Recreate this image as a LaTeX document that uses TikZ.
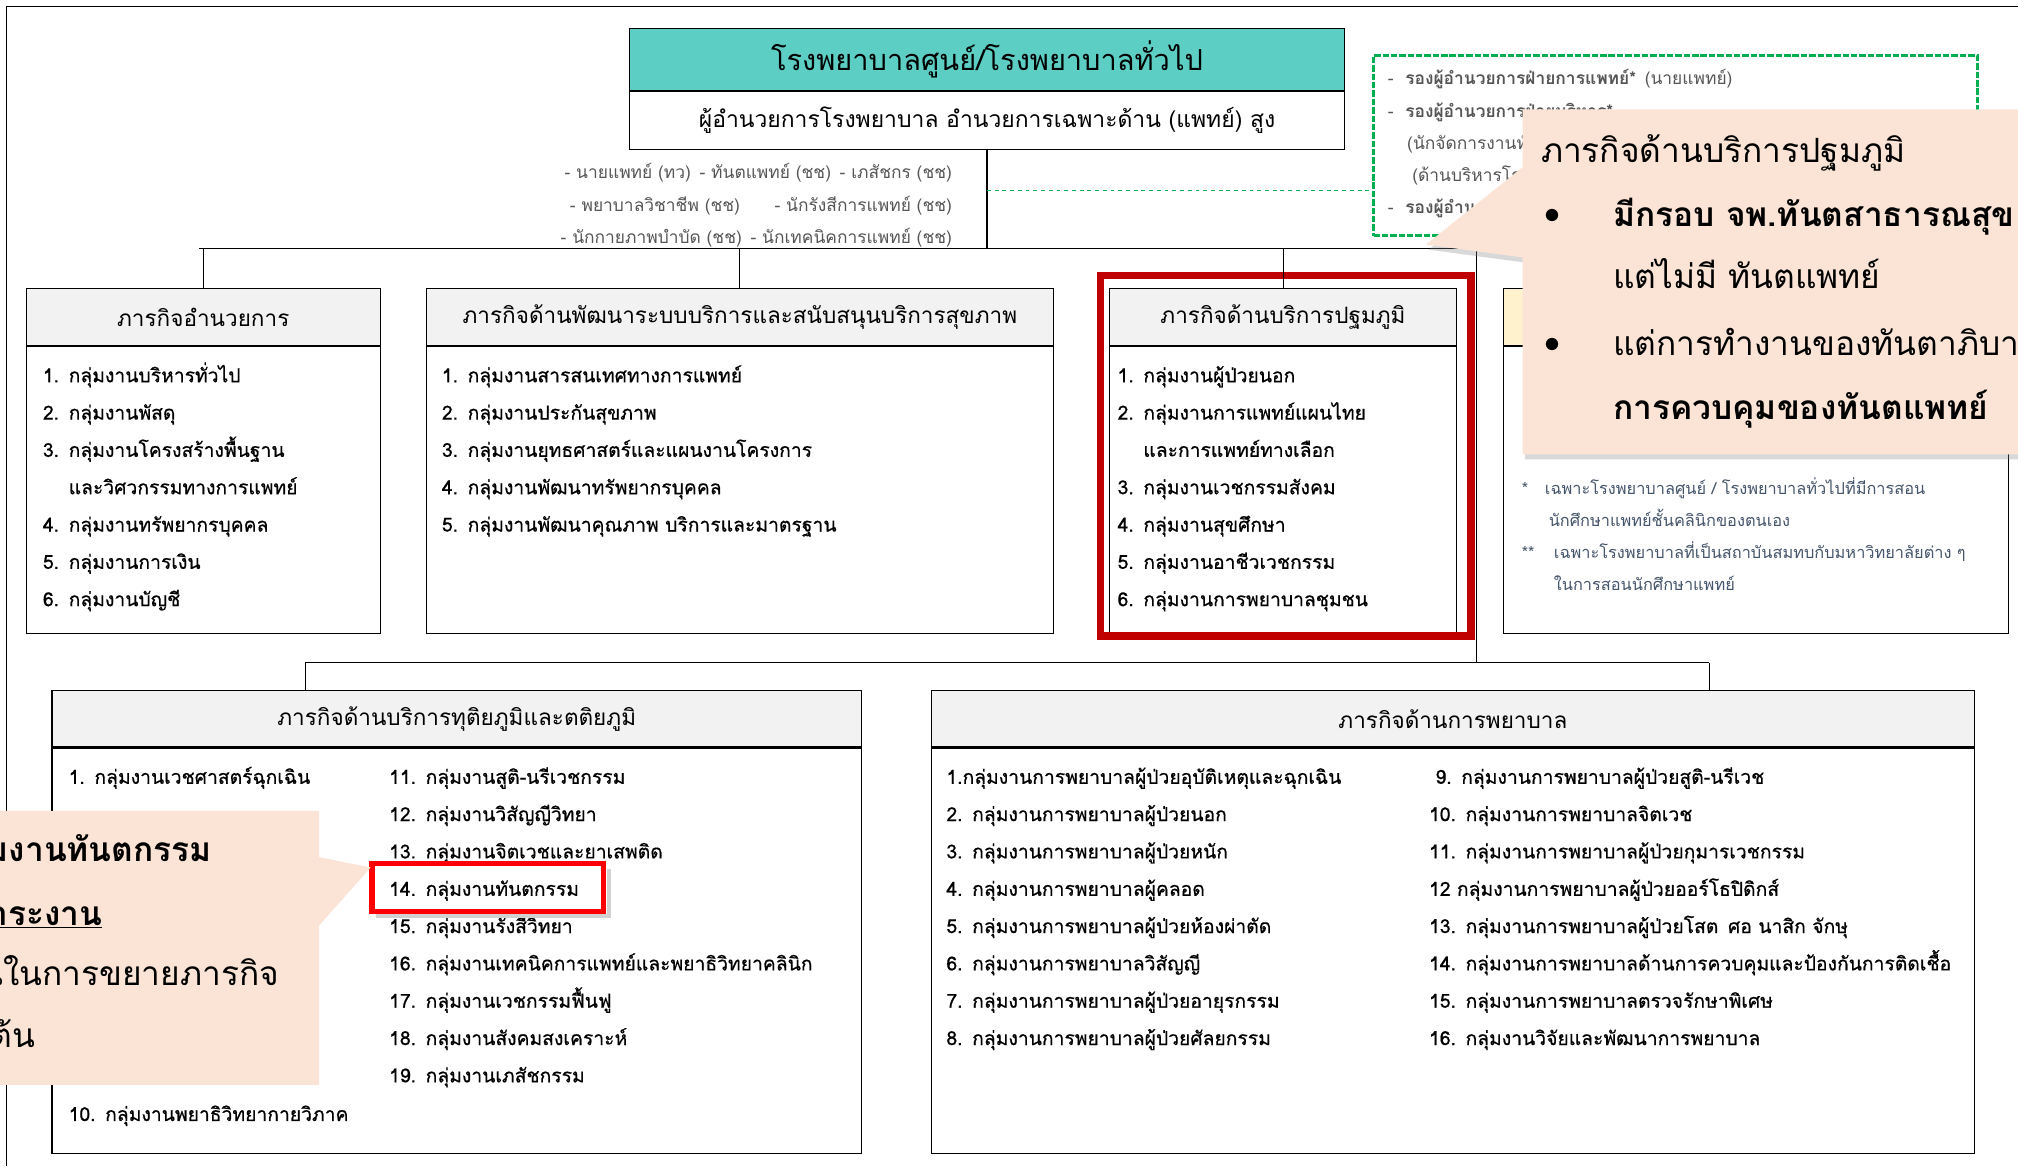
\documentclass[tikz,border=0pt]{standalone}
\usepackage{fontspec}
\setmainfont{Loma}[Script=Thai]
\newfontfamily\itemfont{Loma}[Script=Thai, FakeBold=0.6]
\usetikzlibrary{calc,positioning,shadows}

\definecolor{tealtop}{RGB}{92,206,195}
\definecolor{hdrgray}{RGB}{242,242,242}
\definecolor{peach}{RGB}{251,228,214}
\definecolor{darkred}{RGB}{192,0,0}
\definecolor{brightred}{RGB}{255,0,0}
\definecolor{dashgreen}{RGB}{0,176,80}
\definecolor{paleyellow}{RGB}{255,242,204}
\definecolor{smallgray}{RGB}{85,85,85}
\definecolor{notegray}{RGB}{68,84,106}

\tikzset{hdr/.style = {draw, fill=hdrgray, inner sep=0pt, minimum height=44pt, anchor=north west, font=\fontsize{17.5}{20}\selectfont}}
\tikzset{body/.style = {draw, fill=white, inner sep=0pt, anchor=north west}}
\tikzset{items/.style = {anchor=base west, inner sep=0pt, text width=#1, align=left, font=\itemfont\fontsize{15}{29}\selectfont}}
\tikzset{small/.style = {inner sep=0pt, font=\fontsize{13.5}{25}\selectfont}}
\tikzset{big/.style = {inner sep=0pt, anchor=base west, font=\fontsize{26}{30}\selectfont}}
\tikzset{bigbold/.style = {inner sep=0pt, anchor=base west, font=\fontsize{26}{30}\selectfont\bfseries}}
\tikzset{redframe/.style = {draw=darkred, line width=6pt}}

\begin{document}
\begin{tikzpicture}[x=1pt, y=-1pt, line width=0.8pt]
	\useasboundingbox (0,0) rectangle (1568,906);
	\clip (0,0) rectangle (1568,906);
	\fill[white] (0,0) rectangle (1568,906);
	\draw (5,906) -- (5,5) -- (1568,5);

	% hospital head
	\node[draw, fill=tealtop, minimum width=555pt, minimum height=48pt, inner sep=0pt, anchor=north west, font=\fontsize{22.5}{24}\selectfont] (hosp) at (489,22) {โรงพยาบาลศูนย์/โรงพยาบาลทั่วไป};
	\node[draw, fill=white, minimum width=555pt, minimum height=45pt, inner sep=0pt, anchor=north west, font=\fontsize{17.8}{22}\selectfont] (dir) at (hosp.south west) {ผู้อำนวยการโรงพยาบาล อำนวยการเฉพาะด้าน (แพทย์) สูง};
	\node[small, text=smallgray, anchor=base east, text width=340pt, align=right] (staff) at (740,139) {- นายแพทย์ (ทว)\enspace- ทันตแพทย์ (ชช)\enspace- เภสัชกร (ชช)\\- พยาบาลวิชาชีพ (ชช)\qquad- นักรังสีการแพทย์ (ชช)\\- นักกายภาพบำบัด (ชช)\enspace- นักเทคนิคการแพทย์ (ชช)};

	% deputies
	\node[draw=dashgreen, line width=2.5pt, dash pattern=on 5pt off 1.5pt, minimum width=469pt, minimum height=140pt, inner sep=0pt, anchor=north west] (deputy) at (1066,42) {};
	\node[small, text=smallgray, anchor=base west, text width=440pt, align=left] (deputyList) at (1078,66) {-\hspace{9pt}\textbf{รองผู้อำนวยการฝ่ายการแพทย์*}\enspace(นายแพทย์)\\-\hspace{9pt}\textbf{รองผู้อำนวยการฝ่ายบริหาร*}\\\hspace*{15pt}(นักจัดการงานทั่วไป)\\\hspace*{19pt}(ด้านบริหารโรงพยาบาล)\\-\hspace{9pt}\textbf{รองผู้อำนวยการฝ่ายการพยาบาล}};

	% connectors
	\coordinate (busL) at (155,193);
	\coordinate (busR) at (1364,193);
	\coordinate (trunk) at (1147,193);
	\coordinate (lowL) at (237,515);
	\coordinate (lowR) at (1328,515);
	\coordinate (greenEnd) at (1066,148);
	\draw (busL) -- (busR);
	\draw (dir.south) -- (dir.south |- busL);
	\draw[dashgreen, dashed, line width=1pt] (dir.south |- greenEnd) -- (greenEnd);
	\draw (trunk) -- (trunk |- lowL);
	\draw (lowL) -- (lowR);

	% upper row
	\node[hdr, minimum width=275pt] (adminHead) at (20,224) {ภารกิจอำนวยการ};
	\node[body, minimum width=275pt, minimum height=223pt] (adminBody) at (adminHead.south west) {};
	\node[items=260pt] (adminList) at (33,297) {1. กลุ่มงานบริหารทั่วไป\\2. กลุ่มงานพัสดุ\\3. กลุ่มงานโครงสร้างพื้นฐาน\\\hspace*{20pt}และวิศวกรรมทางการแพทย์\\4. กลุ่มงานทรัพยากรบุคคล\\5. กลุ่มงานการเงิน\\6. กลุ่มงานบัญชี};

	\node[hdr, minimum width=487pt] (devHead) at (331,224) {ภารกิจด้านพัฒนาระบบบริการและสนับสนุนบริการสุขภาพ};
	\node[body, minimum width=487pt, minimum height=223pt] (devBody) at (devHead.south west) {};
	\node[items=460pt] (devList) at (343,297) {1. กลุ่มงานสารสนเทศทางการแพทย์\\2. กลุ่มงานประกันสุขภาพ\\3. กลุ่มงานยุทธศาสตร์และแผนงานโครงการ\\4. กลุ่มงานพัฒนาทรัพยากรบุคคล\\5. กลุ่มงานพัฒนาคุณภาพ บริการและมาตรฐาน};

	\node[hdr, minimum width=269pt] (pcuHead) at (862,224) {ภารกิจด้านบริการปฐมภูมิ};
	\node[body, minimum width=269pt, minimum height=223pt] (pcuBody) at (pcuHead.south west) {};
	\node[items=260pt] (pcuList) at (868,297) {1. กลุ่มงานผู้ป่วยนอก\\2. กลุ่มงานการแพทย์แผนไทย\\\hspace*{20pt}และการแพทย์ทางเลือก\\3. กลุ่มงานเวชกรรมสังคม\\4. กลุ่มงานสุขศึกษา\\5. กลุ่มงานอาชีวเวชกรรม\\6. กลุ่มงานการพยาบาลชุมชน};
	\draw[redframe] (855,214) rectangle (1143,494);

	\node[hdr, fill=paleyellow, minimum width=392pt] (teachHead) at (1168,224) {};
	\node[body, minimum width=392pt, minimum height=223pt] (teachBody) at (teachHead.south west) {};
	\node[inner sep=0pt, font=\fontsize{12.7}{25}\selectfont, text=notegray, anchor=base west, text width=380pt, align=left] (teachNote) at (1182,384) {\makebox[18pt][l]{*}เฉพาะโรงพยาบาลศูนย์ / โรงพยาบาลทั่วไปที่มีการสอน\\\hspace*{21pt}นักศึกษาแพทย์ชั้นคลินิกของตนเอง\\\makebox[25pt][l]{**}เฉพาะโรงพยาบาลที่เป็นสถาบันสมทบกับมหาวิทยาลัยต่าง ๆ\\\hspace*{25pt}ในการสอนนักศึกษาแพทย์};

	\draw (adminHead.north |- busL) -- (adminHead.north);
	\draw (devHead.north |- busL) -- (devHead.north);
	\draw (pcuHead.north |- busL) -- (pcuHead.north);
	\draw (teachHead.north |- busL) -- (teachHead.north);

	% lower row
	\node[hdr, minimum width=629pt] (secHead) at (40,536) {ภารกิจด้านบริการทุติยภูมิและตติยภูมิ};
	\node[body, minimum width=629pt, minimum height=315pt] (secBody) at (secHead.south west) {};
	\node[items=240pt] (secListA) at (53,609) {1. กลุ่มงานเวชศาสตร์ฉุกเฉิน};
	\node[items=240pt] (secListB) at (53,871) {10. กลุ่มงานพยาธิวิทยากายวิภาค};
	\node[items=360pt] (secListC) at (302,609) {11. กลุ่มงานสูติ-นรีเวชกรรม\\12. กลุ่มงานวิสัญญีวิทยา\\13. กลุ่มงานจิตเวชและยาเสพติด\\14. กลุ่มงานทันตกรรม\\15. กลุ่มงานรังสีวิทยา\\16. กลุ่มงานเทคนิคการแพทย์และพยาธิวิทยาคลินิก\\17. กลุ่มงานเวชกรรมฟื้นฟู\\18. กลุ่มงานสังคมสงเคราะห์\\19. กลุ่มงานเภสัชกรรม};
	\draw[black!18, line width=3pt] (292,712) -- (473,712) -- (473,675);
	\draw[draw=brightred, line width=4pt] (289,671) rectangle (469,708);

	\node[hdr, minimum width=811pt] (nurseHead) at (723,536) {ภารกิจด้านการพยาบาล};
	\node[body, minimum width=811pt, minimum height=315pt] (nurseBody) at (nurseHead.south west) {};
	\node[items=380pt] (nurseListA) at (735,609) {1.กลุ่มงานการพยาบาลผู้ป่วยอุบัติเหตุและฉุกเฉิน\\2. กลุ่มงานการพยาบาลผู้ป่วยนอก\\3. กลุ่มงานการพยาบาลผู้ป่วยหนัก\\4. กลุ่มงานการพยาบาลผู้คลอด\\5. กลุ่มงานการพยาบาลผู้ป่วยห้องผ่าตัด\\6. กลุ่มงานการพยาบาลวิสัญญี\\7. กลุ่มงานการพยาบาลผู้ป่วยอายุรกรรม\\8. กลุ่มงานการพยาบาลผู้ป่วยศัลยกรรม};
	\node[items=420pt] (nurseListB) at (1110,609) {\hspace*{5pt}9. กลุ่มงานการพยาบาลผู้ป่วยสูติ-นรีเวช\\10. กลุ่มงานการพยาบาลจิตเวช\\11. กลุ่มงานการพยาบาลผู้ป่วยกุมารเวชกรรม\\12 กลุ่มงานการพยาบาลผู้ป่วยออร์โธปิดิกส์\\13. กลุ่มงานการพยาบาลผู้ป่วยโสต\enspace ศอ นาสิก จักษุ\\14. กลุ่มงานการพยาบาลด้านการควบคุมและป้องกันการติดเชื้อ\\15. กลุ่มงานการพยาบาลตรวจรักษาพิเศษ\\16. กลุ่มงานวิจัยและพัฒนาการพยาบาล};

	\draw (lowL) -- (lowL |- secHead.north);
	\draw (lowR) -- (lowR |- nurseHead.north);

	% callouts
	\fill[peach, drop shadow={opacity=0.3, shadow xshift=2pt, shadow yshift=-4pt}] (1183,85) -- (1600,85) -- (1600,353) -- (1183,353) -- (1183,200) -- (1108,190) -- (1183,130) -- cycle;
	\node[big] (pcuNote) at (1197,126) {ภารกิจด้านบริการปฐมภูมิ};
	\node[big] (dotA) at (1200,174) {$\bullet$};
	\node[bigbold] (pcuNoteA) at (1253,176) {มีกรอบ จพ.ทันตสาธารณสุข};
	\node[big] (pcuNoteB) at (1253,224) {แต่ไม่มี ทันตแพทย์};
	\node[big] (dotB) at (1200,274) {$\bullet$};
	\node[big] (pcuNoteC) at (1253,276) {แต่การทำงานของทันตาภิบาลอยู่ภายใต้};
	\node[bigbold] (pcuNoteD) at (1253,326) {การควบคุมของทันตแพทย์};

	\fill[peach] (-5,630) -- (248,630) -- (248,666) -- (288,674) -- (248,719) -- (248,843) -- (-5,843) -- cycle;
	\node[bigbold, anchor=base east] (dentNoteA) at (165,669) {กลุ่มงานทันตกรรม};
	\node[bigbold, anchor=base east] (dentNoteB) at (80,719) {\underline{ภาระงาน}};
	\node[big, anchor=base east] (dentNoteC) at (217,766) {ความจำเป็นในการขยายภารกิจ};
	\node[big, anchor=base east] (dentNoteD) at (28,814) {เป็นต้น};
\end{tikzpicture}
\end{document}
